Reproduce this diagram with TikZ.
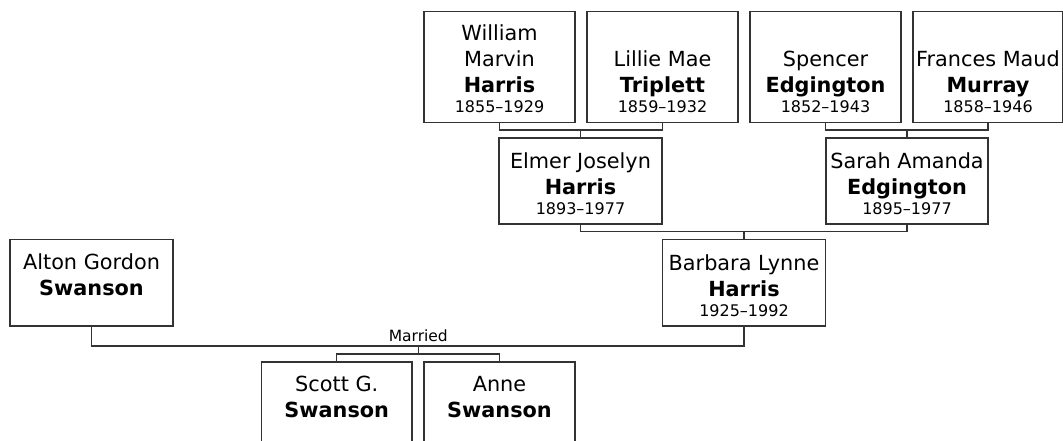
\documentclass[tikz,border=0pt]{standalone}
\usepackage{fontspec}
\setmainfont{DejaVu Sans}
\definecolor{lncol}{HTML}{333333}
\tikzset{
  pbox/.style={draw=lncol, line width=1.3pt, rectangle, inner sep=0pt, fill=white},
  nm/.style={anchor=base, inner sep=0pt, font=\fontsize{20.8}{24}\selectfont},
  sn/.style={anchor=base, inner sep=0pt, font=\fontsize{20.8}{24}\selectfont\bfseries},
  dt/.style={anchor=base, inner sep=0pt, font=\fontsize{16}{19}\selectfont},
  lbl/.style={anchor=base, inner sep=0pt, font=\fontsize{15.5}{18}\selectfont},
  conn/.style={draw=lncol, line width=1.3pt}
}
\begin{document}
\begin{tikzpicture}[x=1pt,y=-1pt]
\useasboundingbox (0,0) rectangle (1063,441);
% junction points
\coordinate (j1) at (580.5,130);
\coordinate (j2) at (907,130);
\coordinate (j3) at (744,231.7);
\coordinate (j4) at (418.3,346);
\coordinate (j5) at (418.3,354);
% boxes
\node[pbox, minimum width=151, minimum height=111] (wm) at (499.5,67.2) {};
\node[pbox, minimum width=151, minimum height=111] (lm) at (662.5,67.2) {};
\node[pbox, minimum width=151, minimum height=111] (sp) at (825.5,67.2) {};
\node[pbox, minimum width=150, minimum height=111] (fm) at (988,67.2) {};
\node[pbox, minimum width=163, minimum height=86] (ej) at (580.5,181) {};
\node[pbox, minimum width=162, minimum height=86] (sa) at (907,181) {};
\node[pbox, minimum width=163, minimum height=86.5] (bh) at (744,282.75) {};
\node[pbox, minimum width=163, minimum height=86.5] (ag) at (91.5,282.75) {};
\node[pbox, minimum width=150.5, minimum height=110] (sg) at (336.75,417) {};
\node[pbox, minimum width=151, minimum height=110] (an) at (499.5,417) {};
% connectors
\draw[conn] (wm.south) |- (j1) -| (lm.south);
\draw[conn] (j1) -- (ej.north);
\draw[conn] (sp.south) |- (j2) -| (fm.south);
\draw[conn] (j2) -- (sa.north);
\draw[conn] (ej.south) |- (j3) -| (sa.south);
\draw[conn] (j3) -- (bh.north);
\draw[conn] (ag.south) |- (j4) -| (bh.south);
\draw[conn] (j4) -- (j5);
\draw[conn] (sg.north) |- (j5) -| (an.north);
\node[lbl] (mar) at (418.3,341) {Married};
% texts: William
\node[nm] (wm1) at (499.5,40.7) {William};
\node[nm] (wm2) at (499.5,66.7) {Marvin};
\node[sn] (wm3) at (499.5,92.7) {Harris};
\node[dt] (wm4) at (499.5,112.7) {1855–1929};
% Lillie
\node[nm] (lm2) at (662.5,66.7) {Lillie Mae};
\node[sn] (lm3) at (662.5,92.7) {Triplett};
\node[dt] (lm4) at (662.5,112.7) {1859–1932};
% Spencer
\node[nm] (sp2) at (825.5,66.7) {Spencer};
\node[sn] (sp3) at (825.5,92.7) {Edgington};
\node[dt] (sp4) at (825.5,112.7) {1852–1943};
% Frances
\node[nm] (fm2) at (988,66.7) {Frances Maud};
\node[sn] (fm3) at (988,92.7) {Murray};
\node[dt] (fm4) at (988,112.7) {1858–1946};
% Elmer
\node[nm] (ej2) at (580.5,168) {Elmer Joselyn};
\node[sn] (ej3) at (580.5,194) {Harris};
\node[dt] (ej4) at (580.5,214) {1893–1977};
% Sarah
\node[nm] (sa2) at (907,168) {Sarah Amanda};
\node[sn] (sa3) at (907,194) {Edgington};
\node[dt] (sa4) at (907,214) {1895–1977};
% Barbara
\node[nm] (bh2) at (744,270) {Barbara Lynne};
\node[sn] (bh3) at (744,296) {Harris};
\node[dt] (bh4) at (744,316) {1925–1992};
% Alton
\node[nm] (ag2) at (91.5,269.5) {Alton Gordon};
\node[sn] (ag3) at (91.5,295.5) {Swanson};
% Scott
\node[nm] (sg2) at (336.75,391.7) {Scott G.};
\node[sn] (sg3) at (336.75,417.5) {Swanson};
% Anne
\node[nm] (an2) at (499.5,391.7) {Anne};
\node[sn] (an3) at (499.5,417.5) {Swanson};
\end{tikzpicture}
\end{document}
